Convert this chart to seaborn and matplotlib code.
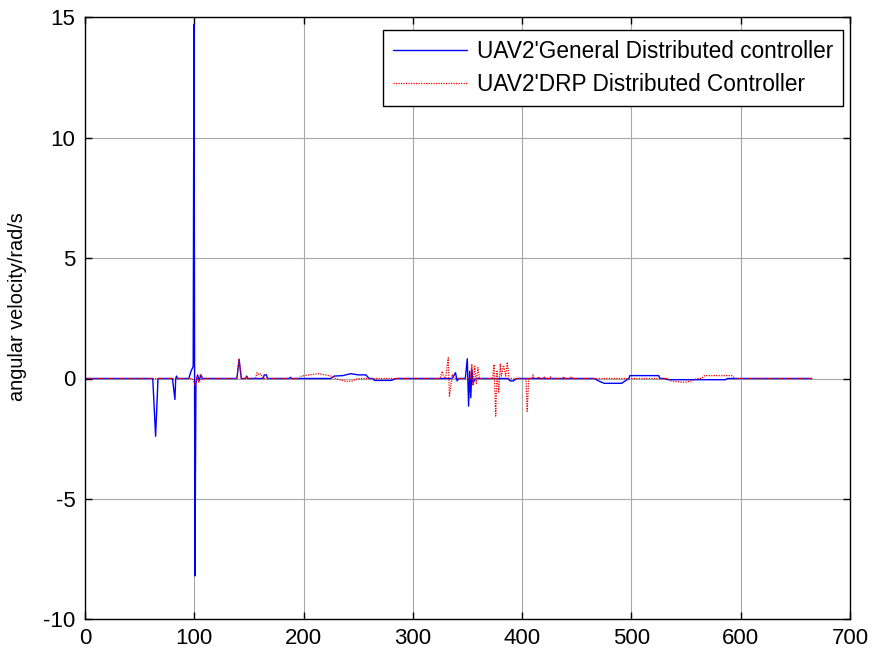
import numpy as np
import pandas as pd
import matplotlib
matplotlib.use("Agg")
import matplotlib.pyplot as plt
import seaborn as sns

# ---- data ----
gen_t = [0, 62, 64.6, 66.8, 80, 82.3, 83, 83.8, 84.6, 95, 97, 99, 99.7, 100.6,
         101.5, 103, 104.5, 106, 107.5, 139, 141, 143, 147, 148, 149, 163, 164,
         166, 167, 187, 188, 189, 225, 228, 236, 243, 250, 257, 260, 263, 265,
         280, 285, 336, 339, 340.5, 342, 348, 349.8, 351, 352, 353, 354, 355,
         357, 387, 389, 392, 395, 466, 470, 475, 491, 497.7, 498.5, 525, 526,
         530, 534, 586, 588, 665]
gen_w = [0, 0, -2.4, 0, 0, -0.87, 0, 0.1, 0, 0, 0.3, 0.5, 14.7, -8.2,
         -0.2, 0.15, -0.1, 0.15, 0, 0, 0.8, 0, 0, 0.1, 0, 0, 0.15,
         0.15, 0, 0, 0.05, 0, 0, 0.1, 0.12, 0.2, 0.15, 0.15, 0, 0, -0.08,
         -0.08, 0, 0, 0.24, -0.1, 0, 0, 0.82, -1.15, 0.3, -0.8, 0.4, -0.2,
         0, 0, -0.1, -0.1, 0, 0, -0.1, -0.2, -0.2, 0, 0.12, 0.12, 0,
         0, -0.05, -0.05, 0, 0]

drp_t = [0, 97, 99, 101, 102.5, 104, 105.5, 107, 108.5, 139, 141, 143, 147,
         148, 149, 156, 157.5, 159, 160.5, 162, 163, 196, 198, 205, 213, 220,
         225, 228, 237, 240, 245, 248, 252, 325, 326.8, 328, 330, 332.4, 333.5,
         336, 338, 352.5, 354, 355, 356.5, 358, 359.5, 361, 362.5, 373, 374.3,
         375.8, 377, 378.5, 380, 381, 383, 385, 386.4, 388, 390, 403.5, 404.6,
         406, 409, 410, 411, 414, 415, 416, 419, 420, 421, 425, 426, 427, 437,
         438, 439, 444, 445, 446, 533, 536, 545, 550, 555, 560, 564, 567, 592,
         595, 665]
drp_w = [0, 0, -0.05, -0.3, 0.1, -0.15, 0.15, -0.05, 0, 0, 0.8, 0, 0,
         0.1, 0, 0, 0.25, 0.15, 0.2, 0.1, 0, 0, 0.1, 0.15, 0.2, 0.15,
         0.1, 0.02, -0.1, -0.12, -0.1, -0.02, 0, 0, 0.3, 0.1, 0, 0.86, -0.76,
         0.17, 0, 0, 0.6, -0.3, 0.55, -0.2, 0.45, 0, 0, 0, 0.58,
         -1.56, 0.3, -0.6, 0.6, 0.1, 0.55, 0.1, 0.68, 0, 0, 0, -1.36,
         0, 0, 0.15, 0, 0, 0.08, 0, 0, 0.08, 0, 0, 0.08, 0, 0,
         0.08, 0, 0, 0.08, 0, 0, -0.1, -0.15, -0.15, -0.1, 0, 0, 0.12, 0.12,
         0, 0]

series_labels = ["UAV2'General Distributed controller",
                 "UAV2'DRP Distributed Controller"]
x_ticks = [0, 100, 200, 300, 400, 500, 600, 700]
y_ticks = [-10, -5, 0, 5, 10, 15]
y_label = "angular velocity/rad/s"

# ---- style ----
sns.set_theme(style="white")
plt.rcParams['font.family'] = ['Liberation Sans', 'DejaVu Sans']
plt.rcParams['axes.unicode_minus'] = False
plt.rcParams['text.color'] = 'black'
plt.rcParams['axes.labelcolor'] = 'black'
plt.rcParams['xtick.color'] = 'black'
plt.rcParams['ytick.color'] = 'black'

fig = plt.figure(figsize=(8.72, 6.55), dpi=100)
ax = fig.add_axes([85 / 872, 1 - 619.3 / 655, 765 / 872, (619.3 - 17.3) / 655])

df_gen = pd.DataFrame({"t": gen_t, "w": gen_w})
df_drp = pd.DataFrame({"t": drp_t, "w": drp_w})

sns.lineplot(data=df_gen, x="t", y="w", ax=ax, color="#0000ff", lw=1.0,
             estimator=None, label=series_labels[0])
sns.lineplot(data=df_drp, x="t", y="w", ax=ax, color="#ff0000", lw=0.9,
             linestyle=(0, (1, 1)), estimator=None, label=series_labels[1])

ax.set_xlim(0, 700)
ax.set_ylim(-10, 15)
ax.set_xticks(x_ticks)
ax.set_yticks(y_ticks)
ax.set_xlabel("")
ax.set_ylabel(y_label, fontsize=14.3, color="black")
ax.yaxis.set_label_coords(-0.076, 0.52)

ax.grid(True, color="#a8a8a8", lw=0.8, linestyle="-")
ax.set_axisbelow(True)
for s in ax.spines.values():
    s.set_visible(True)
    s.set_color("black")
    s.set_linewidth(1.0)

ax.tick_params(axis="both", direction="in", length=5, width=1, color="black",
               labelcolor="black", labelsize=16, top=True, right=True,
               bottom=True, left=True)
ax.tick_params(axis="y", pad=7)
ax.tick_params(axis="x", pad=6)

leg = ax.legend(loc="upper right", bbox_to_anchor=(0.9908, 0.979),
                borderaxespad=0, fontsize=16.3, frameon=True, fancybox=False,
                handlelength=3.3, handletextpad=0.4, labelspacing=0.42,
                borderpad=0.45)
leg.get_frame().set_edgecolor("black")
leg.get_frame().set_linewidth(1.0)
leg.get_frame().set_alpha(1)
for txt in leg.get_texts():
    txt.set_color("black")

fig.savefig("out.png", dpi=100, facecolor="white")
